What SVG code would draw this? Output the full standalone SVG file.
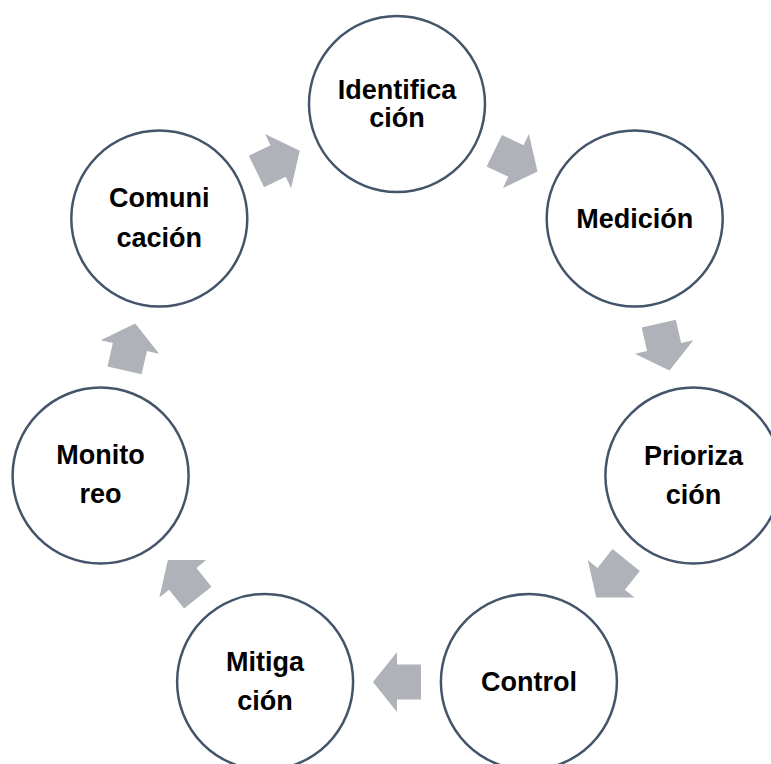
<svg xmlns="http://www.w3.org/2000/svg" xmlns:xlink="http://www.w3.org/1999/xlink" width="771" height="764" viewBox="0 0 771 764">
<defs>
<style>
.node circle{fill:#FFFFFF;stroke:#44546A;stroke-width:2.5}
.node text{font-family:"Liberation Sans",Arial,sans-serif;font-weight:bold;font-size:27px;fill:#000000;text-anchor:middle}
.arrow{fill:#AFB2B9}
</style>
<polygon id="arr" points="-24,-17.5 0,-17.5 0,-30 24,0 0,30 0,17.5 -24,17.5"/>
</defs>
<rect x="0" y="0" width="771" height="764" fill="#FFFFFF"/>
<g id="connectors">
<use xlink:href="#arr" class="arrow" transform="translate(515.9,161.1) rotate(25.71)"/>
<use xlink:href="#arr" class="arrow" transform="translate(664.1,347.0) rotate(77.14)"/>
<use xlink:href="#arr" class="arrow" transform="translate(611.2,578.8) rotate(128.57)"/>
<use xlink:href="#arr" class="arrow" transform="translate(397,682) rotate(180)"/>
<use xlink:href="#arr" class="arrow" transform="translate(182.8,578.8) rotate(231.43)"/>
<use xlink:href="#arr" class="arrow" transform="translate(129.9,347.0) rotate(282.86)"/>
<use xlink:href="#arr" class="arrow" transform="translate(278.1,161.1) rotate(334.29)"/>
</g>
<g id="identificacion" class="node">
<circle cx="397" cy="104" r="88"/>
<text x="397" y="99">Identifica</text>
<text x="397" y="127">ción</text>
</g>
<g id="medicion" class="node">
<circle cx="634.7" cy="218.5" r="88"/>
<text x="634.7" y="227.5">Medición</text>
</g>
<g id="priorizacion" class="node">
<circle cx="693.4" cy="475.6" r="88"/>
<text x="693.4" y="465">Prioriza</text>
<text x="693.4" y="504">ción</text>
</g>
<g id="control" class="node">
<circle cx="528.9" cy="681.9" r="88"/>
<text x="528.9" y="691">Control</text>
</g>
<g id="mitigacion" class="node">
<circle cx="265.1" cy="681.9" r="88"/>
<text x="265.1" y="671">Mitiga</text>
<text x="265.1" y="710">ción</text>
</g>
<g id="monitoreo" class="node">
<circle cx="100.6" cy="475.6" r="88"/>
<text x="100.6" y="464">Monito</text>
<text x="100.6" y="503">reo</text>
</g>
<g id="comunicacion" class="node">
<circle cx="159.3" cy="218.5" r="88"/>
<text x="159.3" y="207">Comuni</text>
<text x="159.3" y="247">cación</text>
</g>
</svg>
